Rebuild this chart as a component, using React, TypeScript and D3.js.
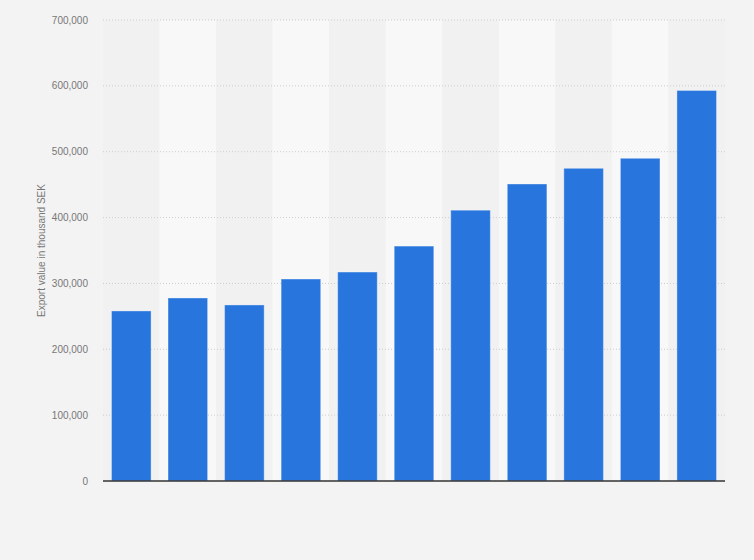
import * as d3 from 'd3'

const years = ['1', '2', '3', '4', '5', '6', '7', '8', '9', '10', '11']
const exportValues = [258200, 277900, 267300, 306700, 317300, 356700, 411200, 451000, 474800, 490000, 593000]
const yTicks = [0, 100000, 200000, 300000, 400000, 500000, 600000, 700000]
const yTitle = 'Export value in thousand SEK'

const W = 754
const H = 560
const margin = { top: 20, right: 29, bottom: 79, left: 103 }

export default function App() {
  const x = d3
    .scaleBand<string>()
    .domain(years)
    .range([margin.left, W - margin.right])
    .paddingInner(0.3)
    .paddingOuter(0.15)

  const bands = d3
    .scaleBand<string>()
    .domain(years)
    .range([margin.left, W - margin.right])

  const y = d3
    .scaleLinear()
    .domain([0, 700000])
    .range([H - margin.bottom, margin.top])

  const fmt = d3.format(',')
  const font = '"Liberation Sans", Arial, sans-serif'

  return (
    <svg
      width={W}
      height={H}
      style={{ position: 'absolute', left: 0, top: 0, display: 'block' }}
    >
      <rect x={0} y={0} width={W} height={H} fill="#f3f3f3" />
      {years.map((yr, i) => (
        <rect
          key={`band-${yr}`}
          x={bands(yr)}
          y={margin.top}
          width={bands.bandwidth()}
          height={H - margin.bottom - margin.top}
          fill={i % 2 === 0 ? '#f1f1f1' : '#f8f8f8'}
        />
      ))}
      {yTicks.map((t) => (
        <g key={`tick-${t}`}>
          {t > 0 && (
            <line
              x1={margin.left}
              x2={W - margin.right}
              y1={y(t)}
              y2={y(t)}
              stroke="#cdcdcd"
              strokeDasharray="1,2"
            />
          )}
          <text
            x={88}
            y={y(t)}
            dy="0.35em"
            textAnchor="end"
            fontFamily={font}
            fontSize={10}
            fill="#777"
          >
            {fmt(t)}
          </text>
        </g>
      ))}
      {exportValues.map((v, i) => (
        <rect
          key={`bar-${years[i]}`}
          x={x(years[i])}
          y={y(v)}
          width={x.bandwidth()}
          height={y(0) - y(v)}
          fill="#2876dd"
          stroke="rgba(255,255,255,0.35)"
          strokeWidth={1}
        />
      ))}
      <line
        x1={margin.left}
        x2={W - margin.right}
        y1={y(0)}
        y2={y(0)}
        stroke="#333"
        strokeWidth={1.5}
      />
      <text
        transform={`translate(41,${(margin.top + H - margin.bottom) / 2}) rotate(-90)`}
        textAnchor="middle"
        dy="0.35em"
        fontFamily={font}
        fontSize={10}
        fill="#777"
      >
        {yTitle}
      </text>
    </svg>
  )
}
